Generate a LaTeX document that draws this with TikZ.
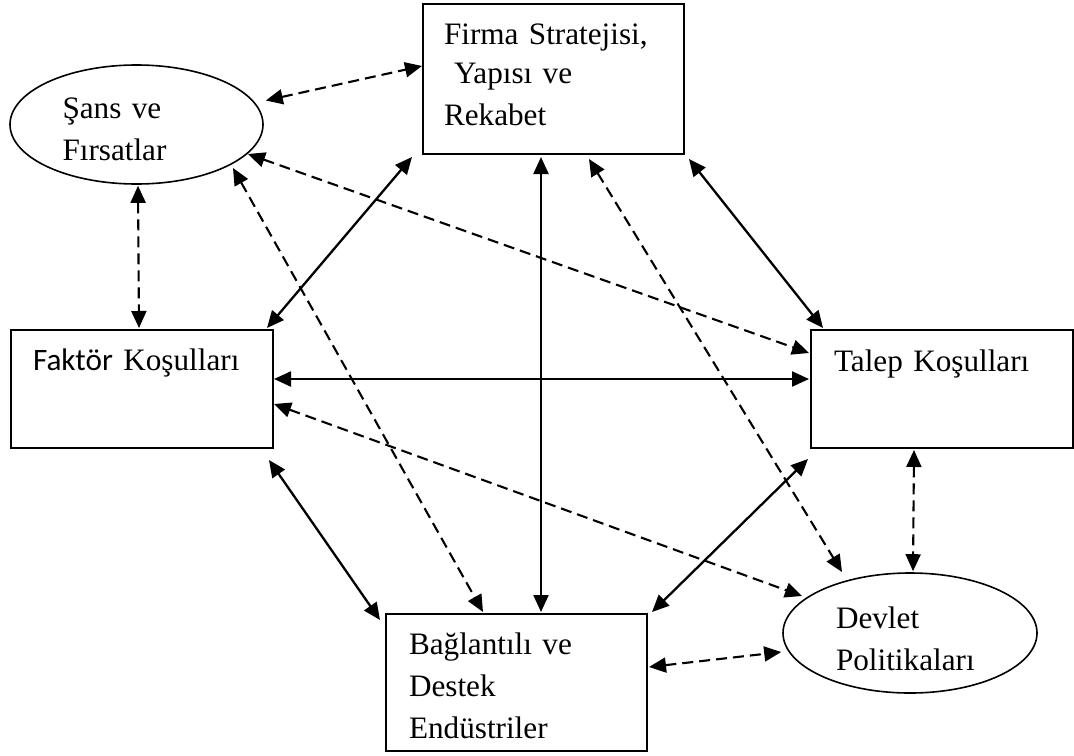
\documentclass[tikz,border=0pt]{standalone}
\usepackage{fontspec}
\setmainfont{Liberation Serif}
\newfontfamily\calibrifont{Carlito}
\usetikzlibrary{arrows.meta, shapes.geometric, calc}

\begin{document}
\begin{tikzpicture}[
            x=0.5pt, y=-0.5pt,
            box/.style={draw, rectangle, line width=1pt, inner ysep=0pt, align=left, anchor=north west, font=\fontsize{15.6}{21}\selectfont},
            oval/.style={draw, ellipse, line width=0.8pt, inner sep=0pt, align=left, text width=74pt, minimum width=126.5pt, minimum height=59.5pt, font=\fontsize{15.6}{21}\selectfont},
            arrow/.style={<->, >={Triangle[length=8.5pt, width=7.5pt]}, line width=1.15pt},
            darrow/.style={arrow, dash pattern=on 5.5pt off 3pt, line width=1.05pt}
        ]
        \useasboundingbox (0,0) rectangle (1074,755);

        % --- Boxes ---
        \node[box, inner xsep=10.5pt, text width=109.5pt, text height=20pt, text depth=55pt] (firma) at (422,3) {Firma Stratejisi,\\[-1.5pt]\hspace*{5pt}Yapısı ve\\Rekabet};
        \node[box, inner xsep=11pt, text width=109pt, text height=20pt, text depth=39pt] (faktor) at (10,329) {{\calibrifont Faktör} Koşulları};
        \node[box, inner xsep=11.5pt, text width=108pt, text height=20.5pt, text depth=38.5pt] (talep) at (810,329) {Talep Koşulları};
        \node[box, inner xsep=11.5pt, text width=107.5pt, text height=20pt, text depth=48.5pt] (bag) at (385,613) {Bağlantılı ve\\Destek\\Endüstriler};

        % --- Ovals ---
        \node[oval, text height=10pt, text depth=16.5pt] (sans) at (136.5,124.5) {Şans ve\\Fırsatlar};
        \node[oval, text height=10pt, text depth=15pt, minimum width=127pt, minimum height=60pt] (devlet) at (910,633) {Devlet\\Politikaları};

        % --- Solid links ---
        \draw[arrow] ($(firma.south west)+(-10,2)$) -- ($(faktor.north east)+(-7,-1)$);
        \draw[arrow] ($(firma.south east)+(4,4)$) -- ($(talep.north west)+(13,-1)$);
        \draw[arrow] ($(firma.south)+(-12.5,2)$) -- ($(bag.north)+(24.5,-1)$);
        \draw[arrow] ($(faktor.east)+(0,-10)$) -- ($(talep.west)+(-1,-10)$);
        \draw[arrow] ($(faktor.south east)+(-5,11)$) -- ($(bag.north west)+(-5,7)$);
        \draw[arrow] ($(talep.south west)+(-2,10)$) -- ($(bag.north east)+(4,-1)$);

        % --- Dashed links ---
        \draw[darrow] ($(sans.east)+(2,-24)$) -- ($(firma.west)+(0,-13)$);
        \draw[darrow] ($(sans.south)+(1.5,1)$) -- ($(faktor.north)+(-3,-1)$);
        \draw[darrow] ($(sans.center)+(111.5,29.5)$) -- ($(talep.west)+(-1,-36)$);
        \draw[darrow] ($(sans.center)+(96.5,43.5)$) -- ($(bag.north)+(-33.5,-1)$);
        \draw[darrow] ($(firma.south)+(35.5,4)$) -- ($(devlet.center)+(-68,-61)$);
        \draw[darrow] ($(faktor.east)+(0,15)$) -- ($(devlet.center)+(-108,-37)$);
        \draw[darrow] ($(talep.south)+(-28,1)$) -- ($(devlet.north)+(3,-1)$);
        \draw[darrow] ($(bag.east)+(1,-15.5)$) -- ($(devlet.west)+(-1,19)$);

    \end{tikzpicture}
\end{document}
